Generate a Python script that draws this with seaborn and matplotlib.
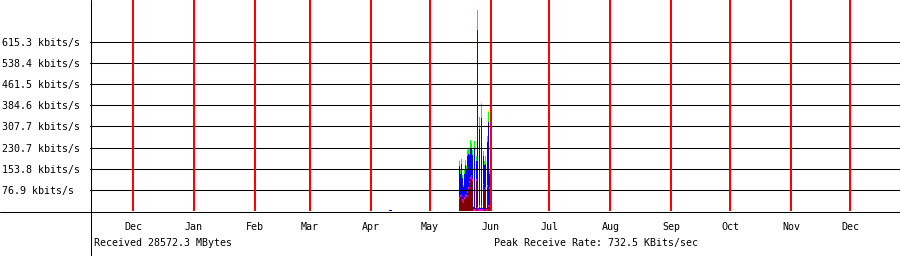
import numpy as np
import pandas as pd
import matplotlib
matplotlib.use("Agg")
import matplotlib.pyplot as plt
from matplotlib.lines import Line2D
import seaborn as sns

sns.set_style("white")
plt.rcParams['font.family'] = ['DejaVu Sans Mono']
plt.rcParams['text.color'] = 'black'
plt.rcParams['xtick.color'] = 'black'
plt.rcParams['ytick.color'] = 'black'

# yearly receive graph, one sample every 12 hours, values in kbits/s
origin = pd.Timestamp("2005-12-01")
month_names = ["Dec", "Jan", "Feb", "Mar", "Apr", "May", "Jun",
               "Jul", "Aug", "Sep", "Oct", "Nov", "Dec"]
y_grid = [76.9, 153.8, 230.7, 307.7, 384.6, 461.5, 538.4, 615.3]

may_start = "2006-05-16 06:00"
http = [43.7, 51.0, 58.2, 36.4, 29.1, 43.7, 54.6, 51.0, 65.5, 80.1, 101.9,
        116.5, 123.8, 109.2, 0, 0, 0, 109.2, 7.3, 0, 14.6, 0, 14.6, 0,
        94.6, 72.8, 80.1, 0, 87.4, 14.6, 80.1]
p2p = [5.5] * 31
tcp = [114.7, 78.3, 107.4, 78.3, 52.8, 85.5, 107.4, 92.8, 129.2, 121.9, 96.5,
       107.4, 96.5, 89.2, 9.1, 220.2, 5.5, 67.3, 646.9, 5.5, 278.5, 5.5,
       318.5, 5.5, 100.1, 89.2, 85.5, 5.5, 158.3, 303.9, 49.1]
udp = [18.2, 14.6, 18.2, 10.9, 7.3, 14.6, 18.2, 14.6, 21.8, 21.8, 18.2,
       29.1, 21.8, 18.2, 0, 29.1, 0, 18.2, 72.8, 0, 43.7, 0, 51.0, 0,
       18.2, 14.6, 29.1, 0, 21.8, 36.4, 10.9]
icmp = [3.6, 0, 3.6, 0, 0, 0, 0, 3.6, 0, 0, 0, 0, 0, 0, 0, 0, 0, 0, 0, 0,
        0, 0, 7.3, 0, 0, 0, 0, 0, 0, 7.3, 0]

# small blip in April
apr_start = "2006-04-10 18:00"
apr_tcp = [3.6, 3.6, 3.6]

colors = {"icmp": "#ffff00", "udp": "#00ff00", "tcp": "#0000ff",
          "p2p": "#ff00ff", "http": "#800000"}

may_t = pd.date_range(may_start, periods=len(http), freq="12h")
apr_t = pd.date_range(apr_start, periods=len(apr_tcp), freq="12h")

frames = []
for name, vals in [("icmp", icmp), ("udp", udp), ("tcp", tcp),
                   ("p2p", p2p), ("http", http)]:
    frames.append(pd.DataFrame({"time": may_t, "rate": vals, "kind": name}))
frames.append(pd.DataFrame({"time": apr_t, "rate": apr_tcp, "kind": "tcp"}))
df = pd.concat(frames, ignore_index=True)
df["day"] = (df["time"] - origin) / pd.Timedelta(days=1)

months = pd.date_range("2005-12-01", "2006-12-01", freq="MS")
month_days = (months - origin) / pd.Timedelta(days=1)

px_per_day = 717 / 365.0
xmin = -(133 - 90) / px_per_day
xmax = xmin + 810 / px_per_day
ymax = 211 / 21.125 * 76.9

fig = plt.figure(figsize=(9, 2.56), dpi=100)
ax = fig.add_axes([90 / 900, 45 / 256, 810 / 900, 211 / 256])

sns.histplot(data=df, x="day", weights="rate", hue="kind",
             hue_order=["icmp", "udp", "tcp", "p2p", "http"],
             palette=colors, multiple="stack", element="bars",
             binwidth=0.5, binrange=(130.5, 181.5), alpha=1,
             linewidth=0, antialiased=False, legend=False, ax=ax)

for v in y_grid:
    ax.axhline(v, color="black", lw=0.75, zorder=5)
for d in month_days:
    ax.axvline(d, color="#ff0000", lw=1.44, zorder=6)

ax.set_xlim(xmin, xmax)
ax.set_ylim(0, ymax)
ax.set_xlabel("")
ax.set_ylabel("")
for s in ax.spines.values():
    s.set_visible(False)

ax.set_yticks(y_grid)
ax.set_yticklabels([f"{v} kbits/s" for v in y_grid], fontsize=7.2)
for lab in ax.get_yticklabels():
    lab.set_horizontalalignment("left")
ax.tick_params(axis="y", length=0, pad=63.4)

ax.set_xticks(month_days)
ax.set_xticklabels(month_names, fontsize=7.2)
ax.tick_params(axis="x", length=0, pad=8)

# axis lines extending over the whole image
fig.add_artist(Line2D([90.5 / 900, 90.5 / 900], [0, 1], color="black", lw=0.75))
fig.add_artist(Line2D([0, 1], [44.5 / 256, 44.5 / 256], color="black", lw=0.75))

fig.text(94 / 900, 13 / 256, "Received 28572.3 MBytes", fontsize=7.2, va="center")
fig.text(494 / 900, 13 / 256, "Peak Receive Rate: 732.5 KBits/sec",
         fontsize=7.2, va="center")

fig.savefig("out.png", dpi=100)
